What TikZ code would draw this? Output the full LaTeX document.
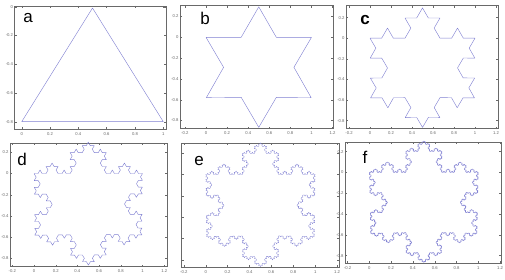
\documentclass[tikz,border=0pt]{standalone}
\usepackage{fontspec}
\setmainfont{Liberation Sans}
\usetikzlibrary{decorations.fractals}
\definecolor{curvec}{RGB}{128,128,210}
\definecolor{axc}{RGB}{105,105,105}
\newif\ifshowy
\newcommand\drawaxes[3]{%
  \draw[axisbox] (\pL,\pT) rectangle (\pR,\pB);
  \foreach \t/\l [count=\i] in #2 {
    \draw[tickm] ({\pXO+\pXS*\t},\pB) -- ++(0,-2);
    \draw[tickm] ({\pXO+\pXS*\t},\pT) -- ++(0,2);
    \node[tl] (#1x\i) at ({\pXO+\pXS*\t},\pB+4.6) {\l};
  }
  \foreach \t/\l [count=\i] in #3 {
    \draw[tickm] (\pL,{\pYO-\pYS*\t}) -- ++(2,0);
    \draw[tickm] (\pR,{\pYO-\pYS*\t}) -- ++(-2,0);
    \ifshowy\node[tl,anchor=east] (#1y\i) at (\pL-1.3,{\pYO-\pYS*\t}) {\l};\fi
  }
}
\newcommand\xfull{-0.2/-0.2,0/0,0.2/0.2,0.4/0.4,0.6/0.6,0.8/0.8,1/1,1.2/1.2}
\newcommand\yfull{0.2/0.2,0/0,-0.2/-0.2,-0.4/-0.4,-0.6/-0.6,-0.8/-0.8}
\newcommand\xtri{0/0,0.2/0.2,0.4/0.4,0.6/0.6,0.8/0.8,1/1}
\newcommand\ytri{0/0,-0.2/-0.2,-0.4/-0.4,-0.6/-0.6,-0.8/-0.8}
\newcommand\setpanel[8]{\def\pL{#1}\def\pT{#2}\def\pR{#3}\def\pB{#4}\def\pXO{#5}\def\pXS{#6}\def\pYO{#7}\def\pYS{#8}}
\begin{document}
\begin{tikzpicture}[x=1pt,y=-1pt,
  axisbox/.style={draw=axc,line width=0.45pt},
  tickm/.style={draw=axc,line width=0.35pt},
  tl/.style={font=\fontsize{4.2}{4.2}\selectfont,text=axc,inner sep=0pt},
  curve/.style={draw=curvec,line width=0.42pt,line join=round},
  finecurve/.style={curve,line width=0.32pt},
  lab/.style={font=\fontsize{17}{17}\selectfont,inner sep=0pt},
  decoration=Koch snowflake]
\useasboundingbox (0,0) rectangle (505,279);
\fill[white] (0,0) rectangle (505,279);

% ---- panel a
\setpanel{14.5}{5.8}{166}{129}{21.7}{141.6}{6.7}{143.75}
\showytrue
\drawaxes{a}{\xtri}{\ytri}
\coordinate (a1) at (21.7,121.7);
\coordinate (a2) at (92.5,8);
\coordinate (a3) at (163.3,121.7);
\draw[curve] (a1) -- (a2) -- (a3) -- cycle;
\node[lab] (la) at (28,18) {a};

% ---- panel b
\setpanel{180}{5.7}{333}{128.5}{206}{105.5}{37.3}{104}
\showytrue
\drawaxes{b}{\xfull}{\yfull}
\begin{scope}[shift={(206pt,-37.3pt)},x=105.5pt,y=104pt]
\draw[curve] decorate{(0,0) -- (1,0) -- (0.5,-0.866) -- (0,0)};
\end{scope}
\node[lab] (lb) at (205,18) {b};

% ---- panel c
\setpanel{346}{5.5}{498}{128.5}{370}{105}{38.2}{103}
\showytrue
\drawaxes{c}{\xfull}{\yfull}
\begin{scope}[shift={(370pt,-38.2pt)},x=105pt,y=103pt]
\draw[curve] decorate{decorate{(0,0) -- (1,0) -- (0.5,-0.866) -- (0,0)}};
\end{scope}
\node[lab,font=\fontsize{17}{17}\selectfont\bfseries] (lc) at (365,20) {c};

% ---- panel d
\setpanel{10}{143}{167}{266.5}{34}{108.5}{173.5}{106}
\showytrue
\drawaxes{d}{\xfull}{\yfull}
\begin{scope}[shift={(34pt,-173.5pt)},x=108.5pt,y=106pt]
\draw[curve] decorate{decorate{decorate{(0,0) -- (1,0) -- (0.5,-0.866) -- (0,0)}}};
\end{scope}
\node[lab] (ld) at (22,159) {d};

% ---- panel e
\setpanel{181.5}{143}{339}{267}{205.7}{109.5}{174.5}{106.5}
\showyfalse
\drawaxes{e}{\xfull}{\yfull}
\begin{scope}[shift={(205.7pt,-174.5pt)},x=109.5pt,y=106.5pt]
\draw[finecurve] decorate{decorate{decorate{decorate{(0,0) -- (1,0) -- (0.5,-0.866) -- (0,0)}}}};
\end{scope}
\node[lab] (le) at (199,161) {e};

% ---- panel f
\setpanel{345}{142}{501}{263}{369.3}{109}{172.4}{104}
\showytrue
\drawaxes{f}{\xfull}{\yfull}
\begin{scope}[shift={(369.3pt,-172.4pt)},x=109pt,y=104pt]
\draw[finecurve] decorate{decorate{decorate{decorate{decorate{(0,0) -- (1,0) -- (0.5,-0.866) -- (0,0)}}}}};
\end{scope}
\node[lab] (lf) at (365,157) {f};
\end{tikzpicture}
\end{document}
